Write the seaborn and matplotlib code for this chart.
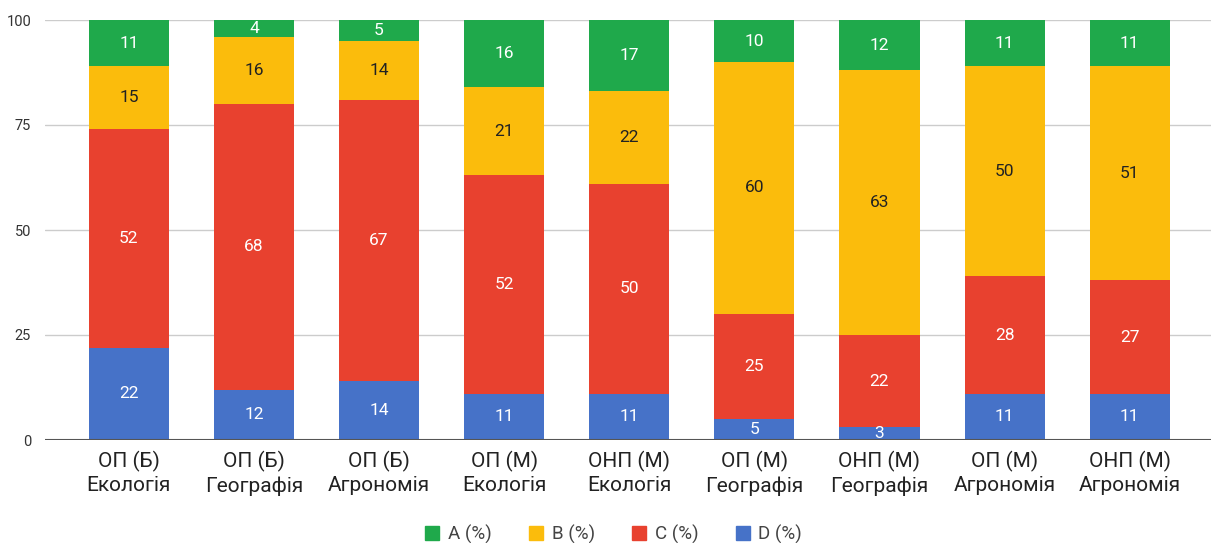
import matplotlib
matplotlib.use("Agg")
import matplotlib.pyplot as plt
from matplotlib.lines import Line2D
import numpy as np
import pandas as pd
import seaborn as sns

categories = [
    "ОП (Б)\nЕкологія", "ОП (Б)\nГеографія", "ОП (Б)\nАгрономія",
    "ОП (М)\nЕкологія", "ОНП (М)\nЕкологія", "ОП (М)\nГеографія",
    "ОНП (М)\nГеографія", "ОП (М)\nАгрономія", "ОНП (М)\nАгрономія",
]
grade_a = [11, 4, 5, 16, 17, 10, 12, 11, 11]
grade_b = [15, 16, 14, 21, 22, 60, 63, 50, 51]
grade_c = [52, 68, 67, 52, 50, 25, 22, 28, 27]
grade_d = [22, 12, 14, 11, 11, 5, 3, 11, 11]
series_names = ["A (%)", "B (%)", "C (%)", "D (%)"]
yticks = [0, 25, 50, 75, 100]

colors = {"A (%)": "#1fa94b", "B (%)": "#fbbc0c", "C (%)": "#e8412f", "D (%)": "#4672c8"}
text_colors = {"A (%)": "white", "B (%)": "#222222", "C (%)": "white", "D (%)": "white"}

sns.set_theme(style="white")
plt.rcParams["font.family"] = ["Roboto", "DejaVu Sans"]

df = pd.DataFrame({"cat": categories, "A (%)": grade_a, "B (%)": grade_b,
                   "C (%)": grade_c, "D (%)": grade_d})

fig = plt.figure(figsize=(12.11, 5.43), dpi=100)
ax = fig.add_axes([45 / 1211, 103 / 543, 1 - 45 / 1211, 420 / 543])

# stacked bars: draw cumulative totals from the top segment down
order_bottom_up = ["D (%)", "C (%)", "B (%)", "A (%)"]
cum = {}
running = np.zeros(len(categories))
for name in order_bottom_up:
    running = running + df[name].values
    cum[name] = running.copy()

for name in reversed(order_bottom_up):
    sns.barplot(x=df["cat"], y=cum[name], color=colors[name], width=0.64,
                saturation=1, ax=ax, zorder=3, order=categories, linewidth=0)

# segment labels
bottom = np.zeros(len(categories))
for name in order_bottom_up:
    vals = df[name].values
    for i, v in enumerate(vals):
        ax.text(i, bottom[i] + v / 2, str(v), ha="center", va="center",
                fontsize=12.5, color=text_colors[name], zorder=5)
    bottom = bottom + vals

ax.set_xlim(-0.67, 8.65)
ax.set_ylim(0, 100)
ax.set_yticks(yticks)
ax.set_yticklabels([str(t) for t in yticks], fontsize=10.5, color="#333333")
ax.set_xlabel("")
ax.set_ylabel("")
ax.tick_params(axis="x", labelsize=15, colors="#222222", length=0, pad=8)
ax.tick_params(axis="y", length=0, pad=10)
for lbl in ax.get_xticklabels():
    lbl.set_linespacing(1.25)

ax.grid(axis="y", color="#cccccc", linewidth=1, zorder=0)
ax.axhline(0, color="#555555", linewidth=1.5, zorder=4)
for s in ax.spines.values():
    s.set_visible(False)

handles = [Line2D([0], [0], marker="s", linestyle="", markersize=10.5,
                  markerfacecolor=colors[n], markeredgecolor=colors[n]) for n in series_names]
fig.legend(handles, series_names, loc="center", bbox_to_anchor=(611 / 1211, 9 / 543),
           ncol=4, frameon=False, fontsize=13.5, handletextpad=0.2, columnspacing=1.7,
           handlelength=1.3, labelcolor="#444444")

fig.savefig("out.png", dpi=100)
